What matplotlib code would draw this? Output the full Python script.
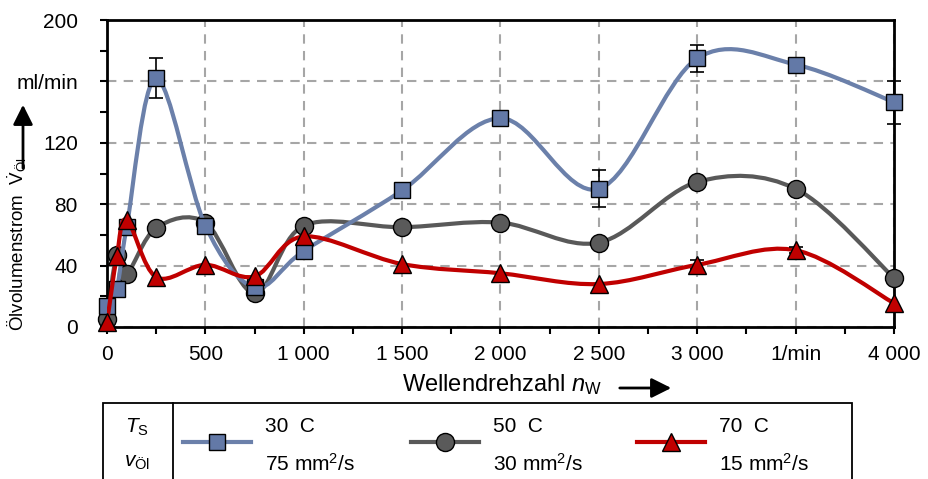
import numpy as np
import matplotlib
matplotlib.use("Agg")
import matplotlib.pyplot as plt
from matplotlib.path import Path
from matplotlib.patches import PathPatch, Rectangle, FancyArrowPatch
from matplotlib.lines import Line2D

plt.rcParams['font.family'] = ['Liberation Sans', 'DejaVu Sans']
plt.rcParams['mathtext.fontset'] = 'custom'
plt.rcParams['mathtext.rm'] = 'Liberation Sans'
plt.rcParams['mathtext.it'] = 'Liberation Sans:italic'

# data
speed = [0, 50, 100, 250, 500, 750, 1000, 1500, 2000, 2500, 3000, 3500, 4000]
flow_30 = [14, 25, 65, 162, 66, 26, 49.5, 89, 136, 90, 175, 171, 146.5]
flow_50 = [5, 47, 34.5, 64.5, 68, 22, 66, 65, 68, 55, 94.5, 90, 32]
flow_70 = [3, 46, 70, 32.5, 40.5, 33, 59, 41, 35, 28, 40.5, 50, 15.5]
err_30 = [0, 0, 0, 13, 0, 3, 0, 0, 0, 12, 9, 0, 14]
err_50 = [0, 0, 0, 0, 0, 3, 0, 0, 0, 0, 0, 0, 0]
err_70 = [0, 0, 0, 0, 0, 0, 0, 0, 0, 0, 3, 2, 0]

x_ticks = [0, 500, 1000, 1500, 2000, 2500, 3000, 3500, 4000]
x_labels = ['0', '500', '1 000', '1 500', '2 000', '2 500', '3 000', '1/min', '4 000']
y_ticks = [0, 40, 80, 120, 160, 200]
y_labels = ['0', '40', '80', '120', 'ml/min', '200']

temps = ['30  C', '50  C', '70  C']
viscs = ['75 mm$^2$/s', '30 mm$^2$/s', '15 mm$^2$/s']

series = [
    (flow_50, err_50, '#595959', '#5a5a5a', 'o', 13, 2),
    (flow_30, err_30, '#6b80aa', '#6379a7', 's', 12, 3),
    (flow_70, err_70, '#c00000', '#c00000', '^', 13, 4),
]


def smooth_path(x, y):
    # excel-like smoothed line (catmull-rom as cubic bezier)
    pts = np.column_stack([x, y]).astype(float)
    n = len(pts)
    verts = [pts[0]]
    codes = [Path.MOVETO]
    for i in range(n - 1):
        p0 = pts[max(i - 1, 0)]
        p1 = pts[i]
        p2 = pts[i + 1]
        p3 = pts[min(i + 2, n - 1)]
        c1 = p1 + (p2 - p0) / 6
        c2 = p2 - (p3 - p1) / 6
        verts += [c1, c2, p2]
        codes += [Path.CURVE4] * 3
    return Path(verts, codes)


fig = plt.figure(figsize=(9.29, 4.79), dpi=100)
ax = fig.add_axes([107 / 929, 152 / 479, 787 / 929, 307 / 479])

for y, err, lc, fc, mk, ms, z in series:
    ax.add_patch(PathPatch(smooth_path(speed, y), fill=False, edgecolor=lc,
                           lw=3, zorder=z, capstyle='round'))
    sel = [i for i, e in enumerate(err) if e > 0]
    if sel:
        ax.errorbar([speed[i] for i in sel], [y[i] for i in sel],
                    yerr=[err[i] for i in sel], fmt='none', ecolor='black',
                    elinewidth=1.2, capsize=5, capthick=1.2, zorder=z + 0.5,
                    clip_on=False)
    ax.plot(speed, y, linestyle='none', marker=mk, markersize=ms,
            markerfacecolor=fc, markeredgecolor='black', markeredgewidth=1,
            zorder=z + 0.6, clip_on=False)

ax.set_xlim(0, 4000)
ax.set_ylim(0, 200)
ax.set_xticks(x_ticks)
ax.set_xticklabels(x_labels)
ax.set_xticks(np.arange(250, 4000, 500), minor=True)
ax.set_yticks(y_ticks)
ax.set_yticklabels(y_labels)
ax.set_yticks(np.arange(20, 200, 40), minor=True)
ax.tick_params(which='both', direction='out', width=1.5, length=5,
               labelsize=15, colors='black')
ax.tick_params(axis='y', which='major', pad=16)
ax.tick_params(axis='x', which='major', pad=8)
for s in ax.spines.values():
    s.set_linewidth(2)
ax.grid(True, which='major', color='#a6a6a6', linestyle=(0, (4.5, 3.5)), lw=1.5)
ax.set_axisbelow(True)

# axis labels with arrows
fig.text(17 / 929, 148 / 479, 'Ölvolumenstrom  $\\dot{\\mathrm{V}}_{\\mathrm{Öl}}$',
         rotation=90, ha='center', va='bottom', fontsize=13.5)
fig.add_artist(FancyArrowPatch(
    (23 / 929, 308 / 479), (23 / 929, 377 / 479), transform=fig.transFigure,
    arrowstyle='-|>,head_length=6,head_width=3', lw=2, color='black',
    mutation_scale=2))
fig.text(502 / 929, 94 / 479, 'Wellendrehzahl $n_\\mathrm{W}$', ha='center',
         va='center', fontsize=17)
fig.add_artist(FancyArrowPatch(
    (617 / 929, 91 / 479), (674 / 929, 91 / 479), transform=fig.transFigure,
    arrowstyle='-|>,head_length=6,head_width=3', lw=2, color='black',
    mutation_scale=2))

# legend table
fig.add_artist(Rectangle((103 / 929, -0.05), 749 / 929, 0.05 + 76 / 479,
                         transform=fig.transFigure, fill=False,
                         edgecolor='black', lw=1.3))
fig.add_artist(Line2D([173 / 929, 173 / 929], [0, 76 / 479],
                      transform=fig.transFigure, color='black', lw=1.3))
fig.text(137 / 929, 52 / 479, '$\\mathit{T}_\\mathrm{S}$', ha='center',
         va='center', fontsize=15)
fig.text(137 / 929, 16 / 479, '$\\mathit{v}_\\mathrm{Öl}$', ha='center',
         va='center', fontsize=15)
leg_x = [183, 411, 637]
order = [1, 0, 2]
for k, (lx, si) in enumerate(zip(leg_x, order)):
    _, _, lc, fc, mk, ms, _ = series[si]
    fig.add_artist(Line2D([lx / 929, (lx + 34) / 929, (lx + 68) / 929],
                          [37 / 479] * 3, transform=fig.transFigure,
                          color=lc, lw=3, marker=mk, markevery=[1],
                          markersize=ms, markerfacecolor=fc,
                          markeredgecolor='black', markeredgewidth=1))
    fig.text((lx + 82) / 929, 53 / 479, temps[k], ha='left', va='center',
             fontsize=15)
    fig.text((lx + 82) / 929, 15 / 479, viscs[k], ha='left', va='center',
             fontsize=15)

fig.savefig('out.png', dpi=100)
